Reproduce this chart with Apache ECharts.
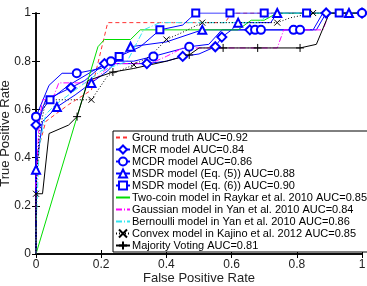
<!DOCTYPE html>
<html>
<head>
<meta charset="utf-8">
<script src="https://cdn.jsdelivr.net/npm/echarts@6/dist/echarts.min.js"></script>
<style>
    html, body { margin: 0; padding: 0; background: #fff; }
    #roc { width: 367px; height: 286px; }
</style>
</head>
<body>
<div id="roc"></div>
<script>
// ROC curves, [false positive rate, true positive rate]
var groundTruth = [[0,0],[0,0.3],[0.01,0.45],[0.03,0.55],[0.1,0.62],[0.17,0.68],[0.22,0.96],[0.58,0.96],[0.6,1],[1,1]];
var mcr = [[0,0],[0,0.535],[0.03,0.64],[0.107,0.69],[0.15,0.72],[0.21,0.79],[0.34,0.79],[0.4,0.8],[0.45,0.82],[0.5,0.83],[0.55,0.86],[0.57,0.9],[0.6,0.93],[0.656,0.93],[0.86,0.93],[0.89,1],[1,1]];
var mcdr = [[0,0],[0,0.57],[0.04,0.7],[0.08,0.75],[0.125,0.75],[0.2,0.77],[0.23,0.8],[0.3,0.8],[0.36,0.82],[0.47,0.86],[0.53,0.87],[0.57,0.93],[0.672,0.93],[0.69,0.93],[0.79,0.93],[0.81,0.93],[0.85,0.93],[0.88,1],[1,1]];
var msdr5 = [[0,0],[0,0.35],[0.02,0.55],[0.064,0.61],[0.12,0.66],[0.17,0.71],[0.22,0.76],[0.29,0.86],[0.4,0.88],[0.51,0.93],[0.6,0.93],[0.62,0.96],[0.72,0.96],[0.74,1],[0.96,1],[1,1]];
var msdr6 = [[0,0],[0,0.5],[0.02,0.6],[0.043,0.64],[0.1,0.7],[0.2,0.78],[0.255,0.82],[0.32,0.86],[0.38,0.93],[0.45,0.95],[0.49,1],[0.595,1],[0.7,1],[0.83,1],[0.93,1],[1,1]];
var twoCoin = [[0,0],[0.19,0.86],[0.21,0.89],[0.29,0.89],[0.32,0.93],[0.62,0.93],[0.66,0.97],[0.7,0.97],[0.74,1],[1,1]];
var gaussian = [[0,0],[0,0.3],[0.01,0.55],[0.02,0.64],[0.05,0.64],[0.07,0.71],[0.17,0.71],[0.21,0.76],[0.24,0.79],[0.35,0.79],[0.4,0.82],[0.45,0.855],[0.74,0.855],[0.76,0.93],[0.88,0.93],[0.9,1],[1,1]];
var bernoulli = [[0,0],[0,0.1],[0.01,0.45],[0.03,0.58],[0.06,0.62],[0.12,0.68],[0.2,0.76],[0.28,0.8],[0.33,0.93],[0.38,0.96],[0.68,0.96],[0.72,1],[1,1]];
var convex = [[0,0],[0,0.25],[0.01,0.5],[0.03,0.64],[0.17,0.64],[0.22,0.74],[0.3,0.785],[0.35,0.82],[0.4,0.89],[0.45,0.92],[0.51,0.96],[0.74,0.96],[0.78,0.98],[0.85,1],[1,1]];
var majority = [[0,0],[0,0.25],[0.02,0.25],[0.04,0.5],[0.1,0.535],[0.126,0.57],[0.16,0.72],[0.236,0.755],[0.3,0.77],[0.4,0.8],[0.47,0.826],[0.5,0.855],[0.574,0.855],[0.68,0.855],[0.81,0.855],[0.86,0.87],[0.9,1],[1,1]];

// which points of each curve carry a marker
var mcrMarks = [1,3,5,6,8,10,11,13,15,16];
var mcdrMarks = [1,4,6,8,9,12,13,14,15,18];
var msdr5Marks = [1,3,5,7,9,11,13,14];
var msdr6Marks = [3,6,8,10,11,12,13,14];
var convexMarks = [1,4,6,8,10,11,13];
var majorityMarks = [5,7,10,12,13,14];

var names = [
    'Ground truth AUC=0.92',
    'MCR model AUC=0.84',
    'MCDR model AUC=0.86',
    'MSDR model (Eq. (5)) AUC=0.88',
    'MSDR model (Eq. (6)) AUC=0.90',
    'Two-coin model in Raykar et al. 2010 AUC=0.85',
    'Gaussian model in Yan et al. 2010 AUC=0.84',
    'Bernoulli model in Yan et al. 2010 AUC=0.86',
    'Convex model in Kajino et al. 2012 AUC=0.85',
    'Majority Voting AUC=0.81'
];
var plainCurves = [0, 5, 6, 7];

var FONT = 'Liberation Sans, Arial, sans-serif';
var BLUE = '#0000ff';
var crossPath = 'path://M0,0L10,10M0,10L10,0';
var plusPath = 'path://M5,0L5,10M0,5L10,5';

function marked(points, marks) {
    return points.map(function (p, i) {
        if (marks.indexOf(i) >= 0) return { value: p };
        return { value: p, symbol: 'none' };
    });
}

function curve(name, data, color, type, symbol, size) {
    return {
        name: name,
        type: 'line',
        data: data,
        symbol: symbol || 'circle',
        symbolSize: size || 8,
        showSymbol: !!symbol,
        animation: false,
        silent: true,
        lineStyle: { color: color, width: 1, type: type || 'solid' },
        itemStyle: { color: color, borderColor: color, borderWidth: 1 }
    };
}

// plain curves get a legend entry with only the line
var legendData = names.map(function (n, i) {
    if (plainCurves.indexOf(i) >= 0) return { name: n, itemStyle: { opacity: 0 } };
    return { name: n };
});

var dom = document.getElementById('roc');
var myChart = echarts.init(dom, null, { renderer: 'canvas' });

var option = {
    backgroundColor: '#fff',
    textStyle: { fontFamily: FONT },
    grid: { left: 36, right: 5, top: 13, bottom: 32, containLabel: false, outerBoundsMode: 'none' },
    legend: {
        orient: 'vertical',
        left: 113,
        top: 131,
        padding: [1, 3, 1, 2],
        itemGap: 1,
        itemWidth: 14,
        itemHeight: 10,
        backgroundColor: '#fff',
        borderColor: '#000',
        borderWidth: 1,
        textStyle: { fontFamily: FONT, fontSize: 11, color: '#000', padding: [0, 0, 0, -3] },
        data: legendData
    },
    xAxis: [{
        type: 'value', min: 0, max: 1, interval: 0.2,
        name: 'False Positive Rate', nameLocation: 'middle', nameGap: 18, nameMoveOverlap: false,
        nameTextStyle: { fontFamily: FONT, fontSize: 13, color: '#222' },
        axisLine: { lineStyle: { color: '#000', width: 1.5 } },
        axisTick: { inside: true, length: 4, lineStyle: { color: '#000' } },
        axisLabel: { fontFamily: FONT, fontSize: 12, color: '#222', margin: 5 },
        splitLine: { show: false }
    }, {
        type: 'value', position: 'top', min: 0, max: 1, interval: 0.2,
        axisLine: { lineStyle: { color: '#000', width: 1.5 } },
        axisTick: { inside: true, length: 4, lineStyle: { color: '#000' } },
        axisLabel: { show: false },
        splitLine: { show: false }
    }],
    yAxis: [{
        type: 'value', min: 0, max: 1, interval: 0.2,
        name: 'True Positive Rate', nameLocation: 'middle', nameGap: 24, nameMoveOverlap: false,
        nameTextStyle: { fontFamily: FONT, fontSize: 13, color: '#222' },
        axisLine: { show: true, lineStyle: { color: '#000', width: 1.5 } },
        axisTick: { show: true, inside: true, length: 4, lineStyle: { color: '#000' } },
        axisLabel: { fontFamily: FONT, fontSize: 12, color: '#222', margin: 5 },
        splitLine: { show: false }
    }, {
        type: 'value', position: 'right', min: 0, max: 1, interval: 0.2,
        axisLine: { show: true, lineStyle: { color: '#000', width: 1.5 } },
        axisTick: { show: true, inside: true, length: 4, lineStyle: { color: '#000' } },
        axisLabel: { show: false },
        splitLine: { show: false }
    }],
    series: [
        curve(names[0], groundTruth, '#ff3030', [4, 3]),
        curve(names[1], marked(mcr, mcrMarks), BLUE, 'solid', 'emptyDiamond', 9),
        curve(names[2], marked(mcdr, mcdrMarks), BLUE, 'solid', 'emptyCircle', 8),
        curve(names[3], marked(msdr5, msdr5Marks), BLUE, 'solid', 'emptyTriangle', 8),
        curve(names[4], marked(msdr6, msdr6Marks), BLUE, 'solid', 'emptyRect', 7),
        curve(names[5], twoCoin, '#00dd00', 'solid'),
        curve(names[6], gaussian, '#ff00ff', [6, 2, 1, 2]),
        curve(names[7], bernoulli, '#33e6f0', [6, 2, 1, 2]),
        curve(names[8], marked(convex, convexMarks), '#000', [1, 2], crossPath, 6),
        curve(names[9], marked(majority, majorityMarks), '#000', 'solid', plusPath, 8)
    ]
};

if (option && typeof option === "object") {
    myChart.setOption(option, true);
}
</script>
</body>
</html>
